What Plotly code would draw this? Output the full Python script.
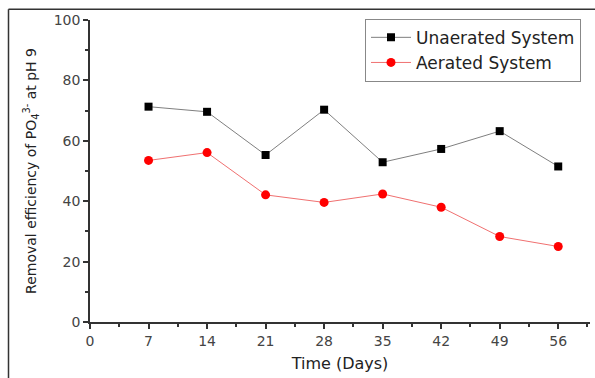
import plotly.graph_objects as go

days = [7, 14, 21, 28, 35, 42, 49, 56]
unaerated = [71.3, 69.6, 55.3, 70.3, 52.9, 57.3, 63.2, 51.5]
aerated = [53.5, 56.1, 42.1, 39.6, 42.4, 38.0, 28.3, 25.0]
x_ticks = [0, 7, 14, 21, 28, 35, 42, 49, 56]
y_ticks = [0, 20, 40, 60, 80, 100]

FONT = "DejaVu Sans, Arial, sans-serif"
AX = "#333333"

fig = go.Figure()
fig.add_trace(go.Scatter(
    x=days, y=unaerated, name="Unaerated System", mode="lines+markers",
    line=dict(color="#7f7f7f", width=1),
    marker=dict(symbol="square", color="black", size=8),
))
fig.add_trace(go.Scatter(
    x=days, y=aerated, name="Aerated System", mode="lines+markers",
    line=dict(color="#f07070", width=1),
    marker=dict(symbol="circle", color="#ff0000", size=9),
))

fig.update_layout(
    width=595, height=378,
    margin=dict(l=89.5, r=5, t=20, b=56),
    paper_bgcolor="white", plot_bgcolor="white",
    font=dict(family=FONT, color=AX),
    showlegend=True,
    legend=dict(
        x=0.982, y=1.004, xanchor="right", yanchor="top",
        bordercolor="#888888", borderwidth=1, bgcolor="white",
        font=dict(size=17, color="#222222"),
        tracegroupgap=0, itemwidth=40,
    ),
    xaxis=dict(
        range=[0, 59.8], tickvals=x_ticks, ticktext=[str(v) for v in x_ticks],
        showgrid=False, zeroline=False, showline=True, linecolor=AX, linewidth=1.5,
        ticks="outside", ticklen=5, tickwidth=1.5, tickcolor=AX,
        minor=dict(dtick=3.5, tick0=0, ticks="outside", ticklen=3, tickwidth=1.5, tickcolor=AX),
        tickfont=dict(size=14, color="#444444"),
        title=dict(text="Time (Days)", font=dict(size=16, color="#222222"), standoff=10),
    ),
    yaxis=dict(
        range=[0, 100], tickvals=y_ticks, ticktext=[str(v) for v in y_ticks],
        showgrid=False, zeroline=False, showline=True, linecolor=AX, linewidth=1.5,
        ticks="outside", ticklen=5, tickwidth=1.5, tickcolor=AX,
        minor=dict(dtick=10, tick0=0, ticks="outside", ticklen=3, tickwidth=1.5, tickcolor=AX),
        tickfont=dict(size=14, color="#444444"),
        title=dict(text="Removal efficiency of PO<sub>4</sub><sup>3-</sup> at pH 9",
                   font=dict(size=14, color="#222222"), standoff=14),
    ),
    shapes=[
        dict(type="line", xref="paper", yref="paper", x0=-0.163, x1=1.2, y0=1.036, y1=1.036,
             line=dict(color="#333333", width=1.5)),
        dict(type="line", xref="paper", yref="paper", x0=-0.163, x1=-0.163, y0=1.036, y1=-0.3,
             line=dict(color="#333333", width=1.5)),
    ],
)

fig.write_html("out.html")
